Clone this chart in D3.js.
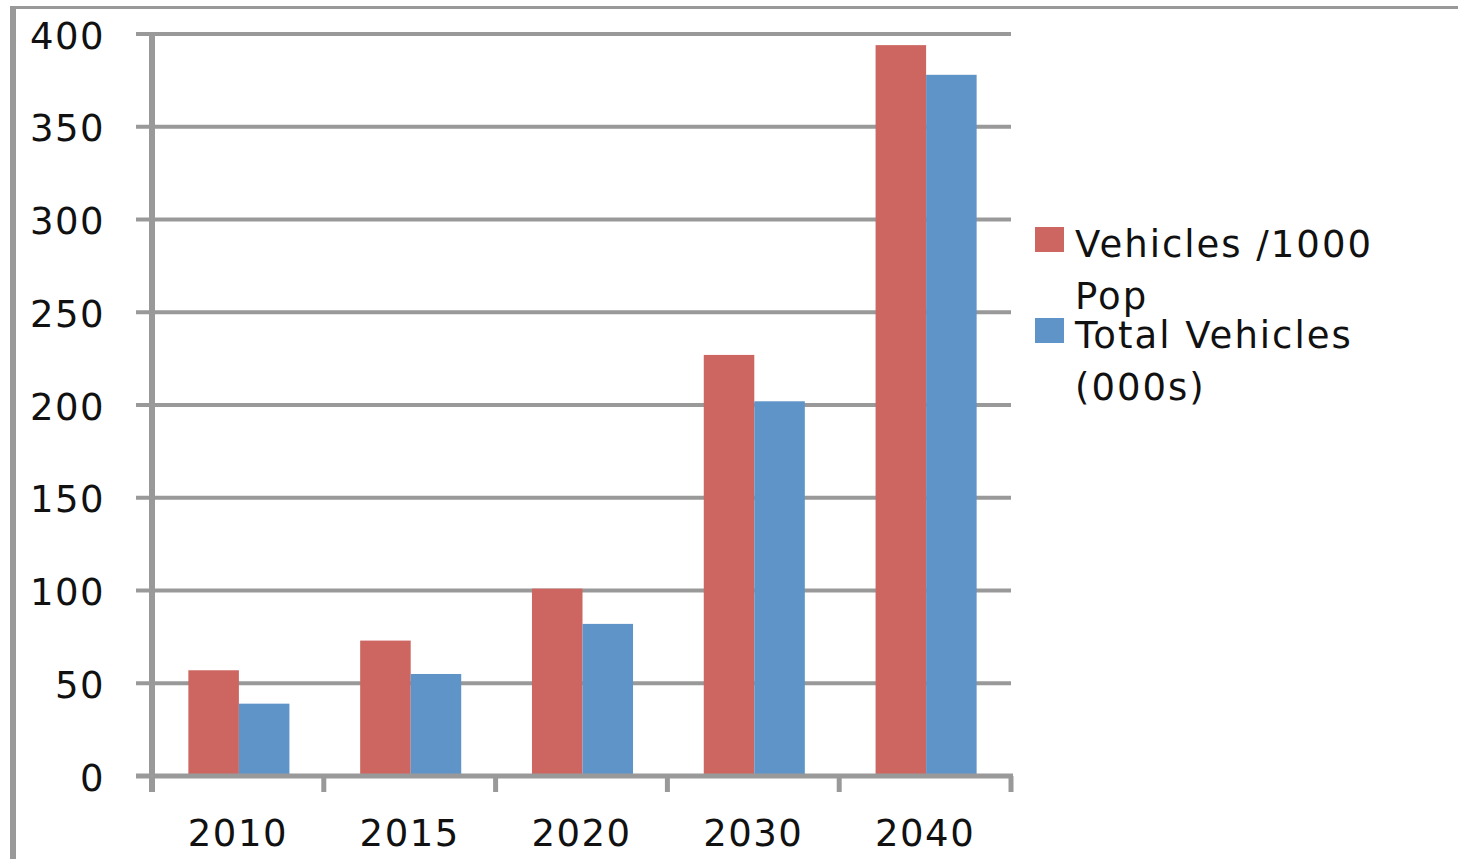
<!DOCTYPE html>
<html>
<head>
<meta charset="utf-8">
<script src="https://cdn.jsdelivr.net/npm/d3@7/dist/d3.min.js"></script>
<style>
  html, body { margin: 0; padding: 0; background: #fff; }
  svg { display: block; }
  text { font-family: "DejaVu Sans", Verdana, sans-serif; fill: #111; }
</style>
</head>
<body>
<svg id="chart" width="1458" height="859"></svg>
<script>
const categories = ["2010", "2015", "2020", "2030", "2040"];
const vehiclesPer1000 = [57, 73, 101, 227, 394];
const totalVehicles = [39, 55, 82, 202, 378];
const yTicks = [0, 50, 100, 150, 200, 250, 300, 350, 400];
const seriesNames = [["Vehicles /1000", "Pop"], ["Total Vehicles", "(000s)"]];
const seriesColors = ["#CD6660", "#5F94C8"];

(function () {
const svg = d3.select("#chart");
const grid = "#999999";

// outer frame (partial chart border)
svg.append("line").attr("x1", 10).attr("x2", 1458).attr("y1", 7.5).attr("y2", 7.5)
  .attr("stroke", grid).attr("stroke-width", 3);
svg.append("line").attr("x1", 13).attr("x2", 13).attr("y1", 6).attr("y2", 859)
  .attr("stroke", grid).attr("stroke-width", 6);

const pLeft = 152, pRight = 1011, pTop = 34, pBottom = 776;
const y = d3.scaleLinear().domain([0, 400]).range([pBottom, pTop]);
const x = d3.scaleBand().domain(categories).range([pLeft, pRight]).padding(0);

// gridlines
svg.append("g").selectAll("line").data(yTicks.filter(v => v > 0)).join("line")
  .attr("x1", 136).attr("x2", pRight)
  .attr("y1", d => y(d)).attr("y2", d => y(d))
  .attr("stroke", grid).attr("stroke-width", 4);

// y labels via axis
const yAxis = svg.append("g").attr("transform", `translate(${pLeft},0)`)
  .call(d3.axisLeft(y).tickValues(yTicks).tickSize(0).tickPadding(47));
yAxis.select(".domain").remove();
yAxis.selectAll("text").attr("font-size", 37).attr("font-family", "DejaVu Sans")
  .attr("fill", "#111").attr("dy", "0.38em").attr("letter-spacing", 1.5);

// bars
const bw = x.bandwidth() / 3.4;
const series = [vehiclesPer1000, totalVehicles];
series.forEach((vals, si) => {
  svg.append("g").selectAll("rect").data(categories).join("rect")
    .attr("x", (c) => x(c) + x.bandwidth() / 2 - bw + si * bw + 1)
    .attr("width", bw)
    .attr("y", (c, i) => y(vals[i]))
    .attr("height", (c, i) => y(0) - y(vals[i]))
    .attr("fill", seriesColors[si]);
});

// x axis line
svg.append("line").attr("x1", 136).attr("x2", pRight + 2)
  .attr("y1", y(0)).attr("y2", y(0)).attr("stroke", grid).attr("stroke-width", 5);
// y axis line
svg.append("line").attr("x1", pLeft).attr("x2", pLeft)
  .attr("y1", pTop + 2).attr("y2", 792).attr("stroke", grid).attr("stroke-width", 6);

// x axis
const xAxis = svg.append("g").attr("transform", `translate(0,${pBottom})`)
  .call(d3.axisBottom(x).tickSize(0).tickPadding(44));
xAxis.select(".domain").remove();
xAxis.selectAll("text").attr("font-size", 37).attr("font-family", "DejaVu Sans")
  .attr("fill", "#111").attr("letter-spacing", 1.5);
// category boundary ticks
const bounds = categories.map(c => x(c) + x.bandwidth());
svg.append("g").selectAll("line").data(bounds).join("line")
  .attr("x1", d => d).attr("x2", d => d)
  .attr("y1", pBottom).attr("y2", 792)
  .attr("stroke", grid).attr("stroke-width", 5);

// legend
const lg = svg.append("g");
const legY = [227, 318];
seriesNames.forEach((lines, i) => {
  lg.append("rect").attr("x", 1035).attr("y", legY[i]).attr("width", 29).attr("height", 25)
    .attr("fill", seriesColors[i]);
  lines.forEach((t, j) => {
    lg.append("text").attr("x", 1075).attr("y", legY[i] + 30 + j * 52)
      .attr("font-size", 37).attr("letter-spacing", 2).text(t);
  });
});
})();
</script>
</body>
</html>
